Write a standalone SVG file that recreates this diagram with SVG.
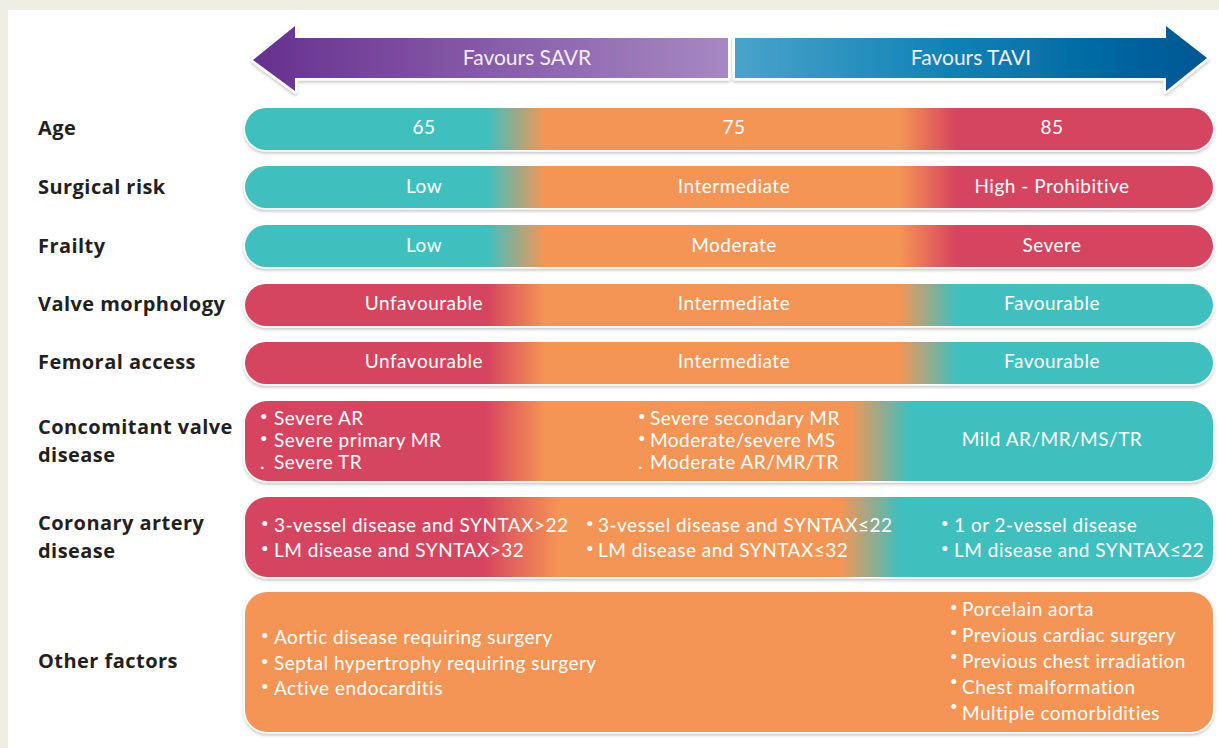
<svg xmlns="http://www.w3.org/2000/svg" width="1219" height="748" viewBox="0 0 1219 748">
<defs>
<style>
.lbl{font-family:"Open Sans",Lato,"Liberation Sans",sans-serif;font-weight:bold;font-size:20px;letter-spacing:0.45px;fill:#231f20}
.t{font-family:Lato,"Open Sans","Liberation Sans",sans-serif;font-size:19px;letter-spacing:0.5px;fill:#ffffff}
.c{text-anchor:middle}
.b{font-size:13px}
.ar{font-family:Lato,"Open Sans","Liberation Sans",sans-serif;font-size:21px;fill:#f2eef6;text-anchor:middle}
.bar{filter:url(#sh)}
</style>
<filter id="sh" x="-5%" y="-30%" width="110%" height="160%">
<feDropShadow dx="0" dy="2" stdDeviation="1.5" flood-color="#000" flood-opacity="0.22"/>
</filter>
<linearGradient id="gTOR" gradientUnits="userSpaceOnUse" x1="245" y1="0" x2="1213" y2="0">
<stop offset="0.25" stop-color="#3fbfbf"/><stop offset="0.31" stop-color="#f59555"/><stop offset="0.675" stop-color="#f59555"/><stop offset="0.735" stop-color="#d6445f"/>
</linearGradient>
<linearGradient id="gROT" gradientUnits="userSpaceOnUse" x1="245" y1="0" x2="1213" y2="0">
<stop offset="0.25" stop-color="#d6445f"/><stop offset="0.31" stop-color="#f59555"/><stop offset="0.675" stop-color="#f59555"/><stop offset="0.735" stop-color="#3fbfbf"/>
</linearGradient>
<linearGradient id="gCV" gradientUnits="userSpaceOnUse" x1="245" y1="0" x2="1213" y2="0">
<stop offset="0.248" stop-color="#d6445f"/><stop offset="0.31" stop-color="#f59555"/><stop offset="0.625" stop-color="#f59555"/><stop offset="0.687" stop-color="#3fbfbf"/>
</linearGradient>
<linearGradient id="gCA" gradientUnits="userSpaceOnUse" x1="245" y1="0" x2="1213" y2="0">
<stop offset="0.246" stop-color="#d6445f"/><stop offset="0.325" stop-color="#f59555"/><stop offset="0.615" stop-color="#f59555"/><stop offset="0.677" stop-color="#3fbfbf"/>
</linearGradient>
<linearGradient id="gP" x1="0" y1="0" x2="1" y2="0">
<stop offset="0" stop-color="#66308f"/><stop offset="1" stop-color="#a788c2"/>
</linearGradient>
<linearGradient id="gB" x1="0" y1="0" x2="1" y2="0">
<stop offset="0" stop-color="#4aa3c9"/><stop offset="0.5" stop-color="#0a7fb3"/><stop offset="1" stop-color="#005692"/>
</linearGradient>
</defs>
<rect x="0" y="0" width="1219" height="748" fill="#eeeee4"/>
<rect x="8" y="10" width="1211" height="738" fill="#ffffff"/>

<g id="arrow-savr">
<path d="M728 38 L295 38 L295 26 L253 60 L295 91 L295 78 L728 78 Z" fill="url(#gP)" stroke="#ffffff" stroke-width="5" stroke-linejoin="round" paint-order="stroke" class="bar"/>
<text class="ar" x="527" y="65">Favours SAVR</text>
</g>
<g id="arrow-tavi">
<path d="M735 38 L1166 38 L1166 26 L1207 58 L1166 91 L1166 78 L735 78 Z" fill="url(#gB)" stroke="#ffffff" stroke-width="5" stroke-linejoin="round" paint-order="stroke" class="bar"/>
<text class="ar" x="971" y="65">Favours TAVI</text>
</g>

<g id="row-age">
<text class="lbl" x="38" y="135">Age</text>
<rect class="bar" x="245" y="108" width="968" height="42" rx="21" fill="url(#gTOR)" stroke="#fff" stroke-width="3" paint-order="stroke"/>
<text class="t c" x="424" y="134">65</text>
<text class="t c" x="734" y="134">75</text>
<text class="t c" x="1052" y="134">85</text>
</g>
<g id="row-surgical">
<text class="lbl" x="38" y="194">Surgical risk</text>
<rect class="bar" x="245" y="166" width="968" height="42" rx="21" fill="url(#gTOR)" stroke="#fff" stroke-width="3" paint-order="stroke"/>
<text class="t c" x="424" y="193">Low</text>
<text class="t c" x="734" y="193">Intermediate</text>
<text class="t c" x="1052" y="193">High - Prohibitive</text>
</g>
<g id="row-frailty">
<text class="lbl" x="38" y="253">Frailty</text>
<rect class="bar" x="245" y="225" width="968" height="42" rx="21" fill="url(#gTOR)" stroke="#fff" stroke-width="3" paint-order="stroke"/>
<text class="t c" x="424" y="252">Low</text>
<text class="t c" x="734" y="252">Moderate</text>
<text class="t c" x="1052" y="252">Severe</text>
</g>
<g id="row-valve">
<text class="lbl" x="38" y="311">Valve morphology</text>
<rect class="bar" x="245" y="284" width="968" height="42" rx="21" fill="url(#gROT)" stroke="#fff" stroke-width="3" paint-order="stroke"/>
<text class="t c" x="424" y="310">Unfavourable</text>
<text class="t c" x="734" y="310">Intermediate</text>
<text class="t c" x="1052" y="310">Favourable</text>
</g>
<g id="row-femoral">
<text class="lbl" x="38" y="369">Femoral access</text>
<rect class="bar" x="245" y="342" width="968" height="42" rx="21" fill="url(#gROT)" stroke="#fff" stroke-width="3" paint-order="stroke"/>
<text class="t c" x="424" y="368">Unfavourable</text>
<text class="t c" x="734" y="368">Intermediate</text>
<text class="t c" x="1052" y="368">Favourable</text>
</g>
<g id="row-concomitant">
<text class="lbl" x="38" y="434">Concomitant valve</text>
<text class="lbl" x="38" y="462">disease</text>
<rect class="bar" x="245" y="401" width="968" height="80" rx="22" fill="url(#gCV)" stroke="#fff" stroke-width="3" paint-order="stroke"/>
<text class="t" y="425"><tspan class="b" x="260" dy="-4">•</tspan><tspan x="274" dy="4">Severe AR</tspan></text>
<text class="t" y="447"><tspan class="b" x="260" dy="-4">•</tspan><tspan x="274" dy="4">Severe primary MR</tspan></text>
<text class="t" y="469"><tspan x="260">.</tspan><tspan x="274">Severe TR</tspan></text>
<text class="t" y="425"><tspan class="b" x="638" dy="-4">•</tspan><tspan x="650" dy="4">Severe secondary MR</tspan></text>
<text class="t" y="447"><tspan class="b" x="638" dy="-4">•</tspan><tspan x="650" dy="4">Moderate/severe MS</tspan></text>
<text class="t" y="469"><tspan x="638">.</tspan><tspan x="650">Moderate AR/MR/TR</tspan></text>
<text class="t c" x="1052" y="446">Mild AR/MR/MS/TR</text>
</g>
<g id="row-coronary">
<text class="lbl" x="38" y="530">Coronary artery</text>
<text class="lbl" x="38" y="558">disease</text>
<rect class="bar" x="245" y="497" width="968" height="80" rx="22" fill="url(#gCA)" stroke="#fff" stroke-width="3" paint-order="stroke"/>
<text class="t" y="532"><tspan class="b" x="261" dy="-4">•</tspan><tspan x="274" dy="4">3-vessel disease and SYNTAX&gt;22</tspan></text>
<text class="t" y="557"><tspan class="b" x="261" dy="-4">•</tspan><tspan x="274" dy="4">LM disease and SYNTAX&gt;32</tspan></text>
<text class="t" y="532"><tspan class="b" x="586" dy="-4">•</tspan><tspan x="598" dy="4">3-vessel disease and SYNTAX≤22</tspan></text>
<text class="t" y="557"><tspan class="b" x="586" dy="-4">•</tspan><tspan x="598" dy="4">LM disease and SYNTAX≤32</tspan></text>
<text class="t" y="532"><tspan class="b" x="941" dy="-4">•</tspan><tspan x="954" dy="4">1 or 2-vessel disease</tspan></text>
<text class="t" y="557"><tspan class="b" x="941" dy="-4">•</tspan><tspan x="954" dy="4">LM disease and SYNTAX≤22</tspan></text>
</g>
<g id="row-other">
<text class="lbl" x="38" y="668">Other factors</text>
<rect class="bar" x="245" y="592" width="968" height="140" rx="22" fill="#f59555" stroke="#fff" stroke-width="3" paint-order="stroke"/>
<text class="t" y="644"><tspan class="b" x="261" dy="-4">•</tspan><tspan x="274" dy="4">Aortic disease requiring surgery</tspan></text>
<text class="t" y="670"><tspan class="b" x="261" dy="-4">•</tspan><tspan x="274" dy="4">Septal hypertrophy requiring surgery</tspan></text>
<text class="t" y="695"><tspan class="b" x="261" dy="-4">•</tspan><tspan x="274" dy="4">Active endocarditis</tspan></text>
<text class="t" y="616"><tspan class="b" x="950" dy="-4">•</tspan><tspan x="962" dy="4">Porcelain aorta</tspan></text>
<text class="t" y="642"><tspan class="b" x="950" dy="-5">•</tspan><tspan x="962" dy="5">Previous cardiac surgery</tspan></text>
<text class="t" y="668"><tspan class="b" x="950" dy="-7">•</tspan><tspan x="962" dy="7">Previous chest irradiation</tspan></text>
<text class="t" y="694"><tspan class="b" x="950" dy="-8">•</tspan><tspan x="962" dy="8">Chest malformation</tspan></text>
<text class="t" y="720"><tspan class="b" x="950" dy="-9">•</tspan><tspan x="962" dy="9">Multiple comorbidities</tspan></text>
</g>
<g id="connectors"></g>
</svg>
